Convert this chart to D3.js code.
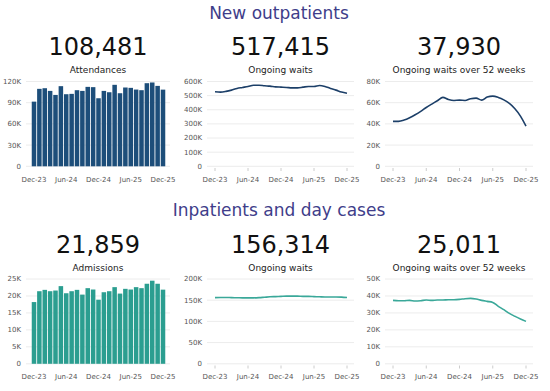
<!DOCTYPE html>
<html>
<head>
<meta charset="utf-8">
<script src="https://cdn.jsdelivr.net/npm/d3@7"></script>
<style>
  body { margin: 0; background: #fff; }
  svg { font-family: "DejaVu Sans", sans-serif; display: block; }
</style>
</head>
<body>
<div id="chart"></div>
<script>
// months shown on every panel
const months = [
  "Dec-23", "Jan-24", "Feb-24", "Mar-24", "Apr-24", "May-24", "Jun-24",
  "Jul-24", "Aug-24", "Sep-24", "Oct-24", "Nov-24", "Dec-24",
  "Jan-25", "Feb-25", "Mar-25", "Apr-25", "May-25", "Jun-25",
  "Jul-25", "Aug-25", "Sep-25", "Oct-25", "Nov-25", "Dec-25"
];
const tickMonths = ["Dec-23", "Jun-24", "Dec-24", "Jun-25", "Dec-25"];

// New outpatients
const attendances = [
  91500, 109600, 110500, 106700, 101000, 113400, 102000, 102500, 107700,
  106700, 112400, 112000, 96300, 106700, 104800, 115300, 103400, 111500,
  111000, 108600, 107700, 117600, 118600, 113800, 108481
];
const opWaits = [
  527000, 525000, 530000, 539000, 551000, 558000, 565000, 574000, 574000,
  570000, 567000, 562000, 560000, 558000, 555000, 555000, 560000, 565000,
  565000, 572000, 565000, 551000, 539000, 525000, 517415
];
const opWaits52 = [
  42400, 42400, 43600, 45800, 48600, 51800, 55500, 58700, 61800, 65000,
  63000, 62100, 62400, 62100, 63700, 64300, 62400, 65300, 66200, 65000,
  62700, 59300, 54300, 47400, 37930
];

// Inpatients and day cases
const admissions = [
  18200, 21400, 21800, 21400, 21600, 22900, 20800, 21400, 21800, 20400,
  22300, 21900, 18900, 21100, 21400, 22600, 20700, 22100, 21900, 22600,
  22300, 23600, 24500, 23600, 21859
];
const ipWaits = [
  156000, 156500, 156500, 156000, 155800, 155500, 155500, 155500, 156000,
  157000, 158000, 158500, 159000, 159500, 159500, 159500, 159000, 159000,
  158500, 158000, 157500, 157500, 157500, 157300, 156314
];
const ipWaits52 = [
  37400, 37200, 37200, 37400, 37000, 37200, 37600, 37400, 37600, 37600,
  37800, 37800, 38000, 38400, 38600, 38200, 37400, 36800, 36200, 33900,
  31900, 29700, 28000, 26400, 25011
];

const sections = ["New outpatients", "Inpatients and day cases"];

const navy = "#1d4e7a";
const teal = "#2b9e90";

// panel definitions (x0/x1 = first and last month position)
const panels = [
  { row: 0, type: "bar", values: attendances, label: "Attendances", yTicks: [0, 30000, 60000, 90000, 120000], x0: 34, x1: 163, color: navy },
  { row: 0, type: "line", values: opWaits, label: "Ongoing waits", yTicks: [0, 100000, 200000, 300000, 400000, 500000, 600000], x0: 215, x1: 347, color: "#1c3f68" },
  { row: 0, type: "line", values: opWaits52, label: "Ongoing waits over 52 weeks", yTicks: [0, 20000, 40000, 60000, 80000], x0: 393, x1: 526, color: "#1c3f68" },
  { row: 1, type: "bar", values: admissions, label: "Admissions", yTicks: [0, 5000, 10000, 15000, 20000, 25000], x0: 34, x1: 163, color: teal },
  { row: 1, type: "line", values: ipWaits, label: "Ongoing waits", yTicks: [0, 50000, 100000, 150000, 200000], x0: 215, x1: 347, color: "#3aa899" },
  { row: 1, type: "line", values: ipWaits52, label: "Ongoing waits over 52 weeks", yTicks: [0, 10000, 20000, 30000, 40000, 50000], x0: 393, x1: 526, color: "#3aa899" }
];

const width = 550,
  height = 391,
  rowGap = 197.5;

const svg = d3
  .select("#chart")
  .append("svg")
  .attr("width", width)
  .attr("height", height);

const fmtK = (d) => (d === 0 ? "0" : d / 1000 + "K");
const fmtNum = d3.format(",");

// section titles
svg
  .selectAll("text.section")
  .data(sections)
  .enter()
  .append("text")
  .attr("class", "section")
  .attr("x", 279)
  .attr("y", (d, i) => 18.5 + i * rowGap)
  .attr("text-anchor", "middle")
  .style("font-size", "17px")
  .style("fill", "#403d8a")
  .text((d) => d);

panels.forEach((p) => {
  const oy = p.row * rowGap;
  const g = svg.append("g").attr("transform", `translate(0, ${oy})`);

  const x = d3.scalePoint().domain(months).range([p.x0, p.x1]);
  const step = x.step();
  const y = d3
    .scaleLinear()
    .domain([0, d3.max(p.yTicks)])
    .range([166.3, 81.5]);

  const left = p.x0 - 8,
    right = p.x1 + 7;
  const cx = (left + right) / 2;

  // headline number and label
  g.append("text")
    .attr("x", cx)
    .attr("y", 55)
    .attr("text-anchor", "middle")
    .style("font-size", "24px")
    .style("fill", "#111")
    .text(fmtNum(p.values[p.values.length - 1]));

  g.append("text")
    .attr("x", cx)
    .attr("y", 73)
    .attr("text-anchor", "middle")
    .style("font-size", "9px")
    .style("fill", "#222")
    .text(p.label);

  // gridlines
  g.selectAll("line.grid")
    .data(p.yTicks)
    .enter()
    .append("line")
    .attr("x1", left)
    .attr("x2", right)
    .attr("y1", (d) => y(d))
    .attr("y2", (d) => y(d))
    .attr("stroke", "#ececec")
    .attr("stroke-width", 1);

  // y axis labels
  g.selectAll("text.ylab")
    .data(p.yTicks)
    .enter()
    .append("text")
    .attr("x", left - 5)
    .attr("y", (d) => y(d))
    .attr("dy", "0.35em")
    .attr("text-anchor", "end")
    .style("font-size", "7px")
    .style("fill", "#555")
    .text(fmtK);

  // x axis labels
  g.selectAll("text.xlab")
    .data(tickMonths)
    .enter()
    .append("text")
    .attr("x", (d) => x(d))
    .attr("y", 181.5)
    .attr("text-anchor", "middle")
    .style("font-size", "7px")
    .style("fill", "#555")
    .text((d) => d);

  if (p.type === "bar") {
    g.selectAll("rect")
      .data(p.values)
      .enter()
      .append("rect")
      .attr("x", (d, i) => x(months[i]) - step * 0.42)
      .attr("width", step * 0.84)
      .attr("y", (d) => y(d))
      .attr("height", (d) => y(0) - y(d))
      .attr("fill", p.color);
  } else {
    // small tick marks under the axis
    g.selectAll("line.tick")
      .data(tickMonths)
      .enter()
      .append("line")
      .attr("x1", (d) => x(d))
      .attr("x2", (d) => x(d))
      .attr("y1", 168)
      .attr("y2", 171)
      .attr("stroke", "#ccc");

    const line = d3
      .line()
      .x((d, i) => x(months[i]))
      .y((d) => y(d))
      .curve(d3.curveMonotoneX);

    g.append("path")
      .datum(p.values)
      .attr("d", line)
      .attr("fill", "none")
      .attr("stroke", p.color)
      .attr("stroke-width", 1.6);
  }
});
</script>
</body>
</html>
